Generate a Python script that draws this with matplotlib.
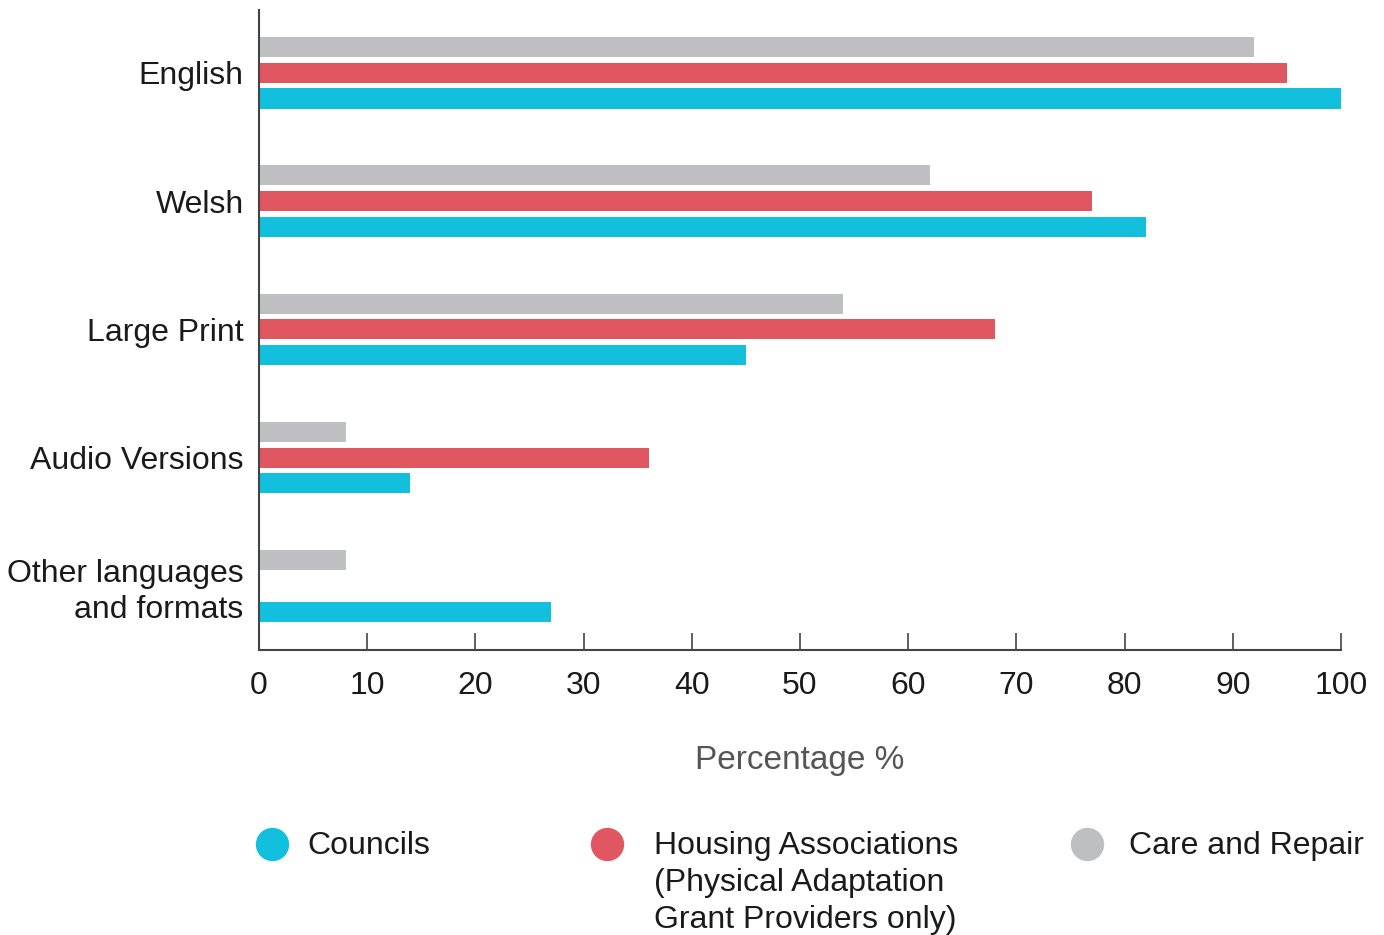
import matplotlib.pyplot as plt
from matplotlib.lines import Line2D
import numpy as np

categories = ["English", "Welsh", "Large Print", "Audio Versions", "Other languages\nand formats"]
councils = [100, 82, 45, 14, 27]
housing = [95, 77, 68, 36, 0]
care_repair = [92, 62, 54, 8, 8]

series_names = ["Councils", "Housing Associations\n(Physical Adaptation\nGrant Providers only)", "Care and Repair"]
colors = ["#12C0DE", "#E05761", "#BEBFC1"]
xticks = list(range(0, 101, 10))

plt.rcParams['font.family'] = ['Liberation Sans', 'DejaVu Sans']

fig = plt.figure(figsize=(13.84, 9.35), dpi=100)
ax = fig.add_axes([259 / 1384, 1 - 650 / 935, (1341 - 259) / 1384, 640 / 935])

y = np.arange(len(categories))
h = 0.156
off = 0.2
ax.barh(y - off, care_repair, height=h, color=colors[2])
ax.barh(y, housing, height=h, color=colors[1])
ax.barh(y + off, councils, height=h, color=colors[0])

ax.set_xlim(0, 100)
ax.set_ylim(4.5, -0.49)
ax.set_xticks(xticks)
ax.set_yticks(y)
ax.set_yticklabels(categories, fontsize=23, color="#1a1a1a", linespacing=1.25)
ax.tick_params(axis='y', length=0, pad=11)
ax.tick_params(axis='x', direction='in', length=12, width=1.2, color="#444444",
               labelsize=23, labelcolor="#1a1a1a", pad=15)

for s in ['top', 'right']:
    ax.spines[s].set_visible(False)
for s in ['left', 'bottom']:
    ax.spines[s].set_color("#444444")
    ax.spines[s].set_linewidth(1.5)

ax.set_xlabel("Percentage %", fontsize=24, color="#555555", labelpad=32)

# legend
marker_x = [272, 607, 1087]
text_x = [307, 654, 1129]
for mx, tx, name, c in zip(marker_x, text_x, series_names, colors):
    fig.add_artist(Line2D([mx / 1384], [1 - 844 / 935], marker='o', markersize=23,
                          color=c, linestyle='none', transform=fig.transFigure))
    fig.text(tx / 1384, 1 - 831 / 935, name, fontsize=23, color="#1a1a1a",
             va='top', ha='left', linespacing=1.3)

fig.savefig("out.png", dpi=100)
